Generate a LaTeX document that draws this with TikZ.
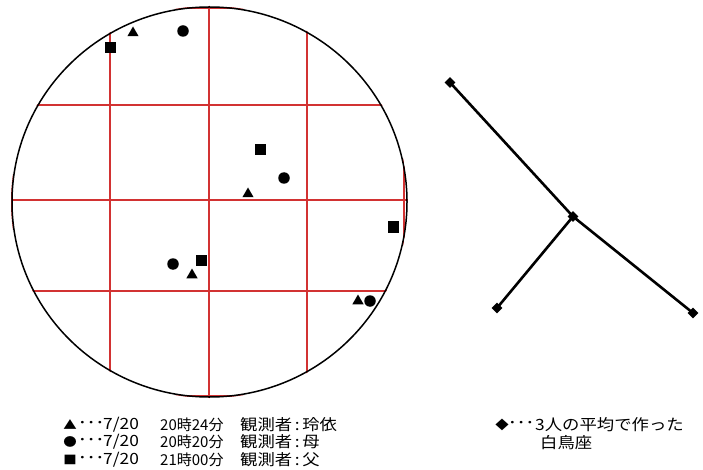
\documentclass[tikz,border=0pt]{standalone}
\usepackage{fontspec}
\setmainfont[FakeStretch=1.12]{Noto Sans CJK JP}
\newfontfamily\plainjp{Noto Sans CJK JP}
\usetikzlibrary{shapes.geometric}
\definecolor{gridred}{RGB}{210,50,50}
\begin{document}
\begin{tikzpicture}[x=1pt,y=-1pt,
  tri/.style={regular polygon, regular polygon sides=3, fill=black, inner sep=0pt, minimum size=13pt},
  dot/.style={circle, fill=black, inner sep=0pt, minimum size=11.5pt},
  sq/.style={rectangle, fill=black, inner sep=0pt, minimum size=11pt},
  dia/.style={diamond, fill=black, inner sep=0pt, minimum size=11pt},
  gridline/.style={draw=gridred, line width=1.1pt},
  leg/.style={anchor=west, inner sep=0pt, font=\fontsize{15.5}{15.5}\selectfont},
  legtime/.style={anchor=west, inner sep=0pt, font=\plainjp\fontsize{15}{15}\selectfont},
  legsym/.style={inner sep=0pt, font=\fontsize{12}{12}\selectfont},
  starline/.style={line width=2.6pt, black}
]
\useasboundingbox (0,0) rectangle (703,470);
% grid clipped to the field of view
\begin{scope}
\clip (209.5,202) ellipse [x radius=198.5pt, y radius=196pt];
\foreach \x in {12,110,209,307,404} \draw[gridline] (\x,0) -- (\x,400);
\foreach \y in {8,105,200,291,396} \draw[gridline] (0,\y) -- (420,\y);
\end{scope}
\draw[line width=1.5pt] (209.5,202) ellipse [x radius=197.5pt, y radius=195pt];
% observations
\node[sq]  (s1) at (110,48) {};
\node[tri] (t1) at (133,33) {};
\node[dot] (c1) at (183,31) {};
\node[sq]  (s2) at (260,150) {};
\node[dot] (c2) at (284,178) {};
\node[tri] (t2) at (248,194) {};
\node[sq]  (s3) at (393,227) {};
\node[dot] (c3) at (173,264) {};
\node[sq]  (s4) at (201,260) {};
\node[tri] (t3) at (192,275) {};
\node[tri] (t4) at (358,301) {};
\node[dot] (c4) at (370,301) {};
% averaged Cygnus
\node[dia] (d1) at (450,82.5) {};
\node[dia] (d2) at (573,216.5) {};
\node[dia] (d3) at (497,308) {};
\node[dia] (d4) at (693,313) {};
\draw[starline] (d1.center) -- (d2.center) -- (d4.center);
\draw[starline] (d2.center) -- (d3.center);
% legend left
\node[legsym] (ls1) at (70,425) {▲};
\node[legsym] (ls2) at (70,442) {●};
\node[legsym] (ls3) at (70,460) {■};
\foreach \r/\y/\t/\o in {1/425/20時24分/玲依, 2/442/20時20分/母, 3/460/21時00分/父}{
  \node[leg] (ld\r) at (78,\y) {･･･};
  \node[leg] (la\r) at (103,\y) {7/20};
  \node[legtime] (lb\r) at (160,\y) {\t};
  \node[leg] (lc\r) at (240,\y) {観測者\,:\,\o};
}
% legend right
\node[legsym] (rs) at (502,425) {◆};
\node[leg] (rd) at (508,425) {･･･};
\node[leg] (rt1) at (535,425) {3人の平均で作った};
\node[leg] (rt2) at (540,443) {白鳥座};
\end{tikzpicture}
\end{document}
